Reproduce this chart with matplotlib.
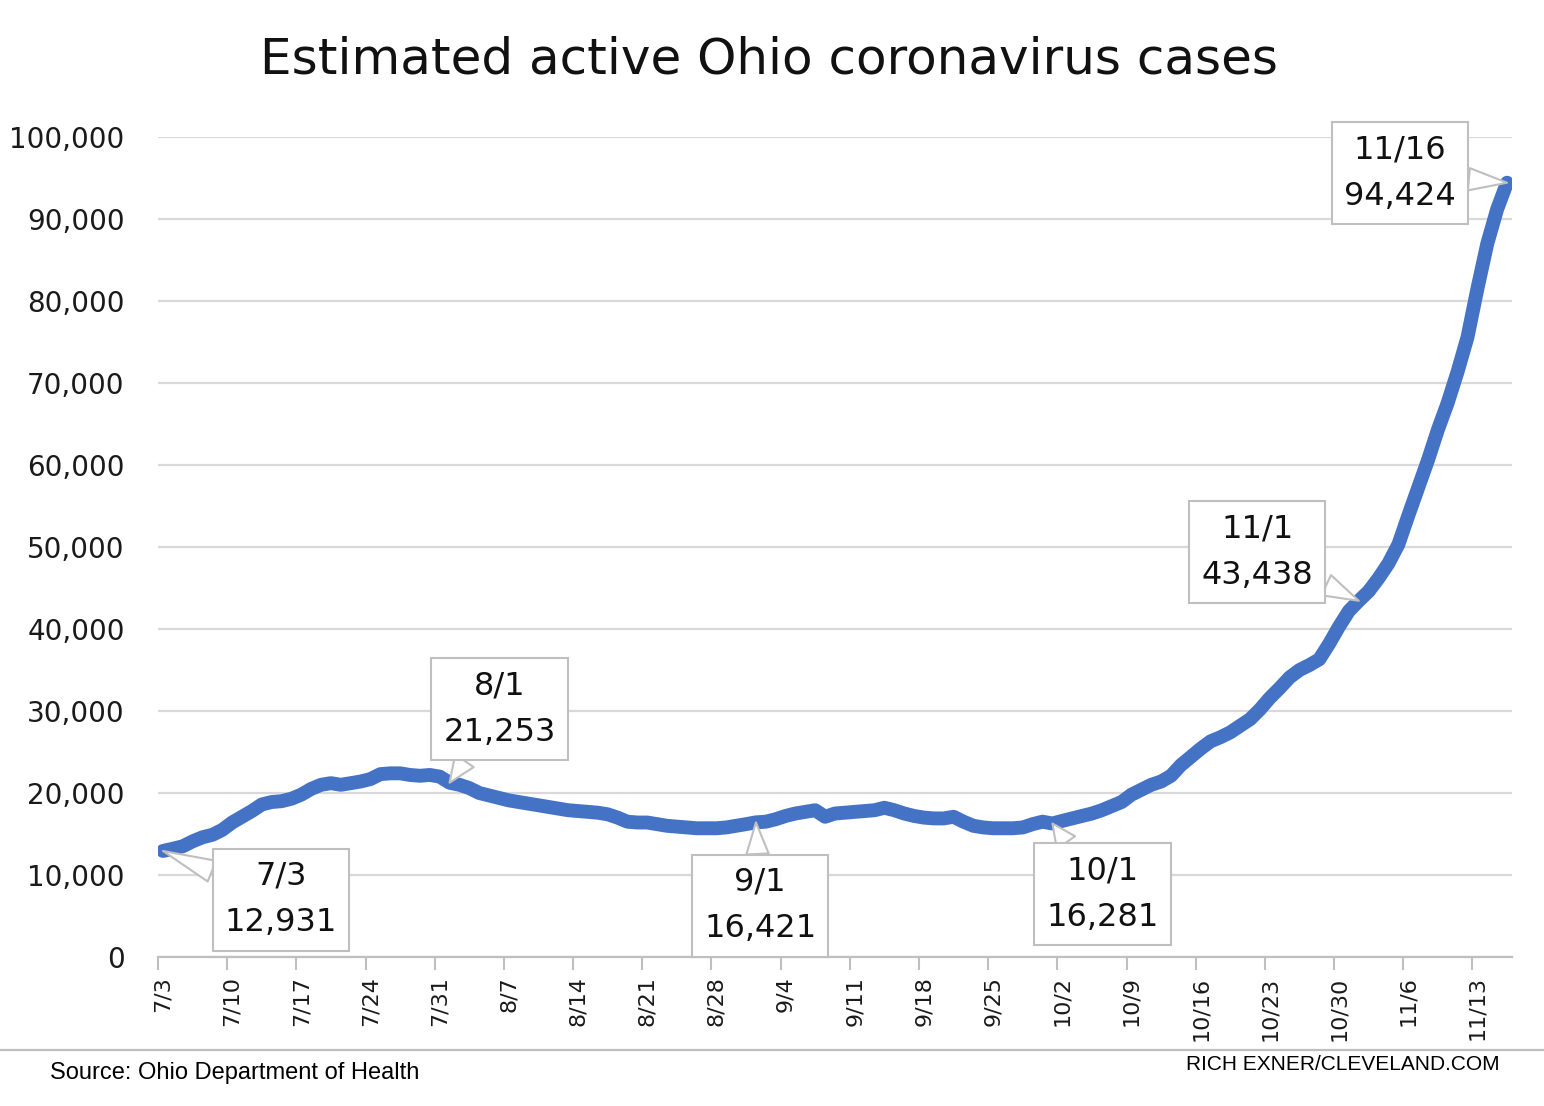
import matplotlib
matplotlib.use("Agg")
import matplotlib.pyplot as plt
import numpy as np
import pandas as pd

# daily estimated active cases, 7/3 .. 11/16
dates = pd.date_range("2020-07-03", "2020-11-16", freq="D")
active = [
    12931, 13200, 13500, 14100, 14600, 14900, 15500,   # 7/3
    16400, 17100, 17800, 18600, 18900, 19000, 19300,   # 7/10
    19800, 20500, 21000, 21200, 21000, 21200, 21400,   # 7/17
    21700, 22300, 22400, 22400, 22200, 22100, 22200,   # 7/24
    22000, 21253, 21000, 20600, 20000, 19700, 19400,   # 7/31
    19100, 18900, 18700, 18500, 18300, 18100, 17900,   # 8/7
    17800, 17700, 17600, 17400, 17000, 16500, 16400,   # 8/14
    16400, 16200, 16000, 15900, 15800, 15700, 15700,   # 8/21
    15700, 15800, 16000, 16200, 16421, 16500, 16800,   # 8/28
    17200, 17500, 17700, 17900, 17100, 17500, 17600,   # 9/4
    17700, 17800, 17900, 18200, 17900, 17500, 17200,   # 9/11
    17000, 16900, 16900, 17100, 16500, 16000, 15800,   # 9/18
    15700, 15700, 15700, 15800, 16200, 16500, 16281,   # 9/25
    16600, 16900, 17200, 17500, 17900, 18400, 18900,   # 10/2
    19800, 20400, 21000, 21400, 22100, 23400, 24400,   # 10/9
    25400, 26300, 26800, 27400, 28200, 29000, 30200,   # 10/16
    31600, 32800, 34100, 35000, 35600, 36300, 38200,   # 10/23
    40300, 42200, 43438, 44600, 46200, 48000, 50300,   # 10/30
    53800, 57200, 60600, 64300, 67600, 71400, 75600,   # 11/6
    81500, 87000, 91200, 94424,                        # 11/13
]
callout_days = ["2020-07-03", "2020-08-01", "2020-09-01", "2020-10-01",
                "2020-11-01", "2020-11-16"]
# box offsets in points from the marked point
callout_offsets = [(85, -35), (36, 53), (3, -60), (36, -51), (-73, 35), (-77, 7)]

x = np.arange(len(dates))
labels = [f"{d.month}/{d.day}" for d in dates]

fig = plt.figure(figsize=(15.44, 11.06), dpi=100)
ax = fig.add_axes([158/1544, 1 - 957/1106, (1512 - 158)/1544, (957 - 137)/1106])

ax.plot(x, active, color="#4472c4", lw=10, solid_capstyle="round",
        solid_joinstyle="round", zorder=3)

ax.set_xlim(-0.5, len(dates) - 0.5)
ax.set_ylim(0, 100000)
ax.set_yticks(np.arange(0, 100001, 10000))
ax.set_yticklabels([f"{v:,}" for v in range(0, 100001, 10000)],
                   fontsize=20, color="#1a1a1a")
ax.yaxis.grid(True, color="#d9d9d9", lw=1.6)
ax.tick_params(axis="y", length=0, pad=24)

major = x[::7]
ax.set_xticks(major)
ax.set_xticklabels([labels[i] for i in major], rotation=90, fontsize=16,
                   color="#1a1a1a", va="top")
ax.set_xticks(np.arange(-0.5, len(dates) - 1, 7), minor=True)
ax.tick_params(axis="x", which="major", length=0, pad=14)
ax.tick_params(axis="x", which="minor", length=9, width=1.5, color="#bfbfbf")

for s in ["top", "right", "left"]:
    ax.spines[s].set_visible(False)
ax.spines["bottom"].set_color("#bfbfbf")
ax.spines["bottom"].set_linewidth(1.6)
ax.set_axisbelow(True)

for day, off in zip(callout_days, callout_offsets):
    i = dates.get_loc(pd.Timestamp(day))
    d = dates[i]
    ax.annotate(f"{d.month}/{d.day}\n{active[i]:,}", xy=(x[i], active[i]),
                xytext=off, textcoords="offset points", ha="center", va="center",
                fontsize=23, color="#111111", linespacing=1.65, zorder=5,
                bbox=dict(boxstyle="square,pad=0.38", fc="white", ec="#bfbfbf", lw=1.5),
                arrowprops=dict(arrowstyle="wedge,tail_width=0.7", fc="white",
                                ec="#bfbfbf", lw=1.5, shrinkA=0, shrinkB=0))

fig.text(0.498, 1 - 60/1106, "Estimated active Ohio coronavirus cases",
         ha="center", va="center", fontsize=36, color="#111111")
fig.text(50/1544, 1 - 1073/1106, "Source: Ohio Department of Health",
         ha="left", va="center", fontsize=17, family="Liberation Sans")
fig.text(1500/1544, 1 - 1065/1106, "RICH EXNER/CLEVELAND.COM",
         ha="right", va="center", fontsize=15, family="Liberation Sans")
fig.add_artist(plt.Line2D([0, 1], [1 - 1050/1106] * 2, color="#bfbfbf", lw=1.6))

fig.savefig("out.png", dpi=100)
